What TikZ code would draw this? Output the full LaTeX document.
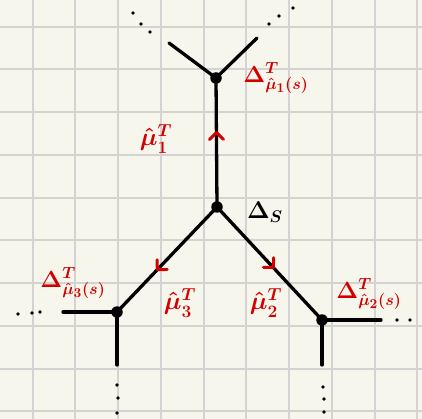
\documentclass[tikz,border=0pt]{standalone}
\usetikzlibrary{decorations.markings}
\definecolor{paper}{HTML}{F7F6EC}
\definecolor{gridc}{HTML}{D3D3D3}
\definecolor{ink}{HTML}{D40000}
\begin{document}
\begin{tikzpicture}[x=1pt,y=-1pt,
  vtx/.style={circle,fill=black,inner sep=0pt,minimum size=11.5pt},
  edge/.style={line width=3.3pt,black,line cap=round},
  dotm/.style={circle,fill=black,inner sep=0pt,minimum size=3.8pt},
  lab/.style={text=ink,inner sep=0pt,font=\LARGE\boldmath,scale=1.45},
  dlab/.style={text=ink,inner sep=0pt,font=\LARGE\boldmath,scale=1.35},
  mk/.style={postaction={decorate},decoration={markings,
     mark=at position #1 with {\draw[ink,line width=3pt,line cap=round,line join=round] (-6,7)--(1,0)--(-6,-7);}}}
]
\useasboundingbox (0,0) rectangle (422,419);
\fill[paper] (0,0) rectangle (422,419);
\foreach \i in {-1,...,9}{
  \draw[gridc,line width=2pt] ({32.7+42.75*\i},0) -- ({32.7+42.75*\i},419);
  \draw[gridc,line width=2pt] (0,{26.7+42.75*\i}) -- (422,{26.7+42.75*\i});
}
% vertices
\node[vtx] (c) at (217,207) {};
\node[vtx] (t) at (216,78) {};
\node[vtx] (l) at (117,312) {};
\node[vtx] (r) at (322,320) {};
% free ends
\coordinate (tl) at (169,43);
\coordinate (tr) at (257,38);
\coordinate (lw) at (63,312);
\coordinate (ld) at (117,365);
\coordinate (re) at (381,320);
\coordinate (rd) at (322,365);
% edges
\draw[edge,mk=0.57] (c.center) -- (t.center);
\draw[edge,mk=0.59] (c.center) -- (l.center);
\draw[edge,mk=0.53] (c.center) -- (r.center);
\draw[edge] (t.center) -- (tl);
\draw[edge] (t.center) -- (tr);
\draw[edge] (l.center) -- (lw);
\draw[edge] (l.center) -- (ld);
\draw[edge] (r.center) -- (re);
\draw[edge] (r.center) -- (rd);
% dots
\foreach \p/\n in {{(133,13)}/a1,{(141,24)}/a2,{(150,32)}/a3,
                   {(269,24)}/b1,{(279,16)}/b2,{(293,8)}/b3,
                   {(18,314)}/c1,{(32,313)}/c2,{(40,312)}/c3,
                   {(117,385)}/d1,{(118,398)}/d2,{(117,413)}/d3,
                   {(397,320)}/e1,{(410,320)}/e2,
                   {(323,387)}/f1,{(324,399)}/f2,{(324,412)}/f3}
  \node[dotm] (\n) at \p {};
% labels
\node[dlab] (L1) at (276,78) {$\Delta^{T}_{\hat\mu_1(s)}$};
\node[lab] (M1) at (156,139) {$\hat\mu_1^{T}$};
\node[inner sep=0pt,font=\LARGE\boldmath,scale=1.4] (DS) at (265,212) {$\Delta_S$};
\node[dlab] (L3) at (73,283) {$\Delta^{T}_{\hat\mu_3(s)}$};
\node[lab] (M3) at (180,303) {$\hat\mu_3^{T}$};
\node[lab] (M2) at (266,303) {$\hat\mu_2^{T}$};
\node[dlab] (L2) at (369,294) {$\Delta^{T}_{\hat\mu_2(s)}$};
\end{tikzpicture}
\end{document}
